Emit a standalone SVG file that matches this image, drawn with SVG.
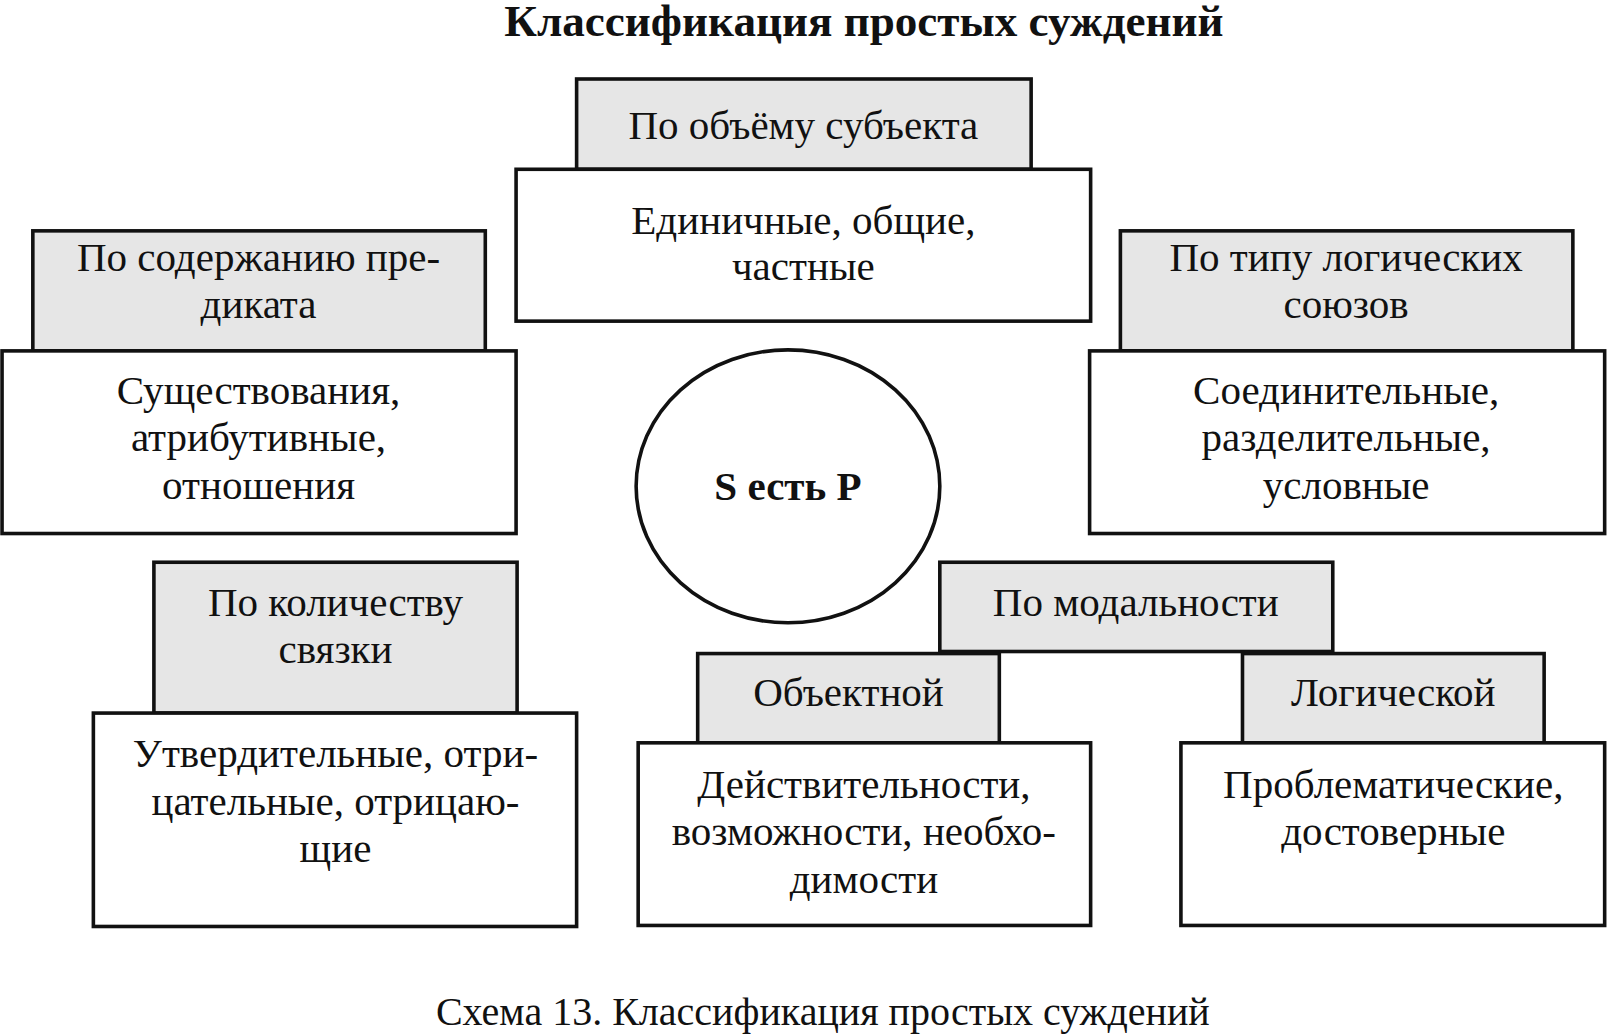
<svg xmlns="http://www.w3.org/2000/svg" width="1609" height="1035" viewBox="0 0 1609 1035">
<style>
text{font-family:"Liberation Serif",serif;font-size:40px;text-anchor:middle;fill:#111}
.h{fill:#e6e6e6;stroke:#111;stroke-width:3.5}
.b{fill:#fff;stroke:#111;stroke-width:3.5}
.bold{font-weight:bold}
</style>
<rect width="1609" height="1035" fill="#fff"/>
<g transform="scale(1.026)">
<text class="bold" x="842" y="35" style="font-size:44px">Классификация простых суждений</text>
<g id="subject">
<rect class="h" x="562" y="77" width="443" height="88"/>
<text x="783" y="135">По объёму субъекта</text>
<rect class="b" x="503" y="165" width="560" height="148"/>
<text x="783" y="228">Единичные, общие,</text><text x="783" y="273">частные</text>
</g>
<g id="predicate">
<rect class="h" x="32" y="225" width="441" height="117"/>
<text x="252" y="264">По содержанию пре-</text><text x="252" y="310">диката</text>
<rect class="b" x="2" y="342" width="501" height="178"/>
<text x="252" y="394">Существования,</text><text x="252" y="440">атрибутивные,</text><text x="252" y="486">отношения</text>
</g>
<g id="unions">
<rect class="h" x="1092" y="225" width="441" height="117"/>
<text x="1312" y="264">По типу логических</text><text x="1312" y="310">союзов</text>
<rect class="b" x="1062" y="342" width="502" height="178"/>
<text x="1312" y="394">Соединительные,</text><text x="1312" y="440">разделительные,</text><text x="1312" y="486">условные</text>
</g>
<g id="center">
<ellipse class="b" cx="768" cy="474" rx="148" ry="133"/>
<text class="bold" x="768" y="487">S есть P</text>
</g>
<g id="copula">
<rect class="h" x="150" y="548" width="354" height="147"/>
<text x="327" y="600">По количеству</text><text x="327" y="646">связки</text>
<rect class="b" x="91" y="695" width="471" height="208"/>
<text x="327" y="748">Утвердительные, отри-</text><text x="327" y="794">цательные, отрицаю-</text><text x="327" y="840">щие</text>
</g>
<g id="modality">
<rect class="h" x="916" y="548" width="383" height="87"/>
<text x="1107" y="600">По модальности</text>
</g>
<g id="objective">
<rect class="h" x="680" y="637" width="294" height="87"/>
<text x="827" y="688">Объектной</text>
<rect class="b" x="622" y="724" width="441" height="178"/>
<text x="842" y="778">Действительности,</text><text x="842" y="824">возможности, необхо-</text><text x="842" y="870">димости</text>
</g>
<g id="logical">
<rect class="h" x="1211" y="637" width="294" height="87"/>
<text x="1358" y="688">Логической</text>
<rect class="b" x="1151" y="724" width="413" height="178"/>
<text x="1358" y="778">Проблематические,</text><text x="1358" y="824">достоверные</text>
</g>
<g id="connectors"></g>
<text x="802" y="999" style="font-size:39px">Схема 13. Классификация простых суждений</text>
</g>
</svg>
